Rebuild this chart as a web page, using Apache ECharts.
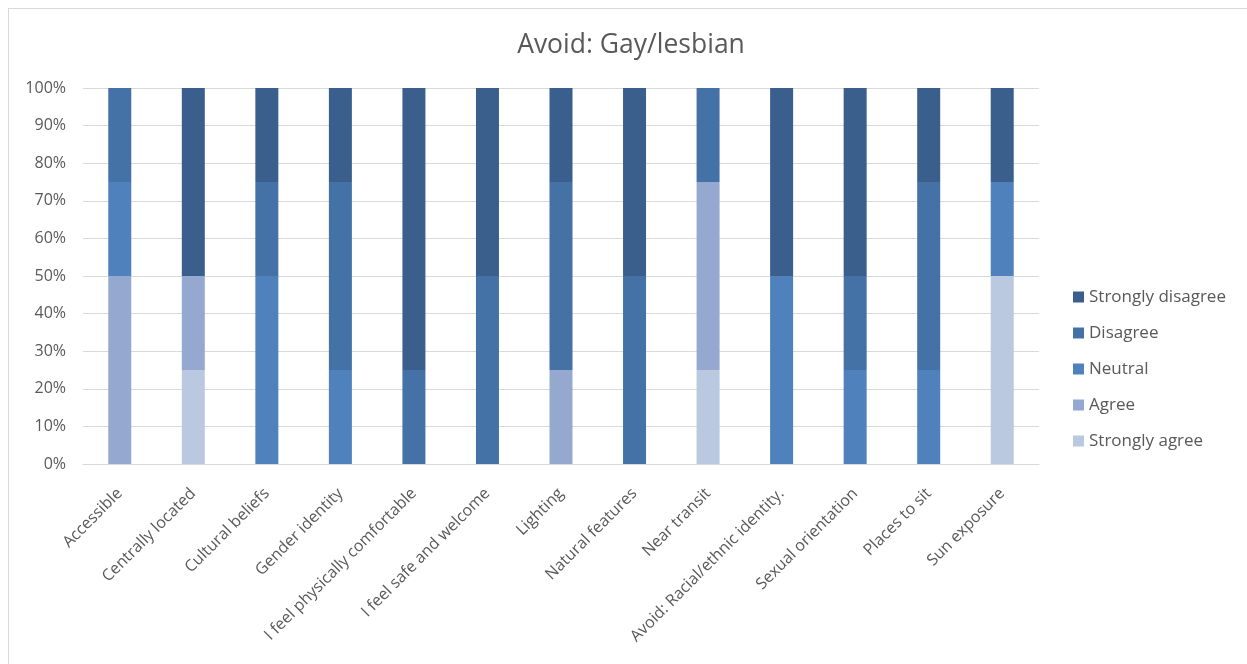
<!DOCTYPE html>
<html><head><meta charset="utf-8">
<script src="https://cdn.jsdelivr.net/npm/echarts@6/dist/echarts.min.js"></script>
<style>
html,body{margin:0;padding:0;background:#fff;overflow:hidden;}
#frame{position:absolute;left:8px;top:8px;width:1250px;height:670px;border:1px solid #d9d9d9;box-sizing:border-box;}
#chart{position:absolute;left:0;top:0;width:1247px;height:664px;}
</style></head>
<body>
<div id="frame"></div>
<div id="chart"></div>
<script>
const categories = ["Accessible","Centrally located","Cultural beliefs","Gender identity","I feel physically comfortable","I feel safe and welcome","Lighting","Natural features","Near transit","Avoid: Racial/ethnic identity.","Sexual orientation","Places to sit","Sun exposure"];
const stronglyAgree    = [0, 25, 0, 0, 0, 0, 0, 0, 25, 0, 0, 0, 50];
const agree            = [50, 25, 0, 0, 0, 0, 25, 0, 50, 0, 0, 0, 0];
const neutral          = [25, 0, 50, 25, 0, 0, 0, 0, 0, 50, 25, 25, 25];
const disagree         = [25, 0, 25, 50, 25, 50, 50, 50, 25, 0, 25, 50, 0];
const stronglyDisagree = [0, 50, 25, 25, 75, 50, 25, 50, 0, 50, 50, 25, 25];
const seriesNames = ["Strongly agree","Agree","Neutral","Disagree","Strongly disagree"];
const seriesData = [stronglyAgree, agree, neutral, disagree, stronglyDisagree];
const colors = ["#BAC8E0","#95A9D0","#4F81BD","#4472A6","#3A5F8C"];

const chart = echarts.init(document.getElementById('chart'));
chart.setOption({
  animation:false,
  title:{text:"Avoid: Gay/lesbian",left:626,top:27,textAlign:'center',
    textStyle:{fontFamily:'Open Sans',fontSize:26.5,fontWeight:'normal',color:'#595959'}},
  grid:{left:83,right:208,top:88,bottom:200},
  legend:{orient:'vertical',left:1068,top:281,itemGap:14,itemWidth:11,itemHeight:11,icon:'rect',
    data:seriesNames.slice().reverse(),
    textStyle:{fontFamily:'Open Sans',fontSize:17,color:'#595959',lineHeight:22}},
  xAxis:{type:'category',data:categories,
    axisLine:{lineStyle:{color:'#d9d9d9',width:1}},axisTick:{show:false},
    axisLabel:{rotate:45,interval:0,fontFamily:'Open Sans',fontSize:16,color:'#595959',margin:27}},
  yAxis:{type:'value',min:0,max:100,interval:10,
    axisLine:{show:false},axisTick:{show:false},
    splitLine:{lineStyle:{color:'#d9d9d9',width:1}},
    axisLabel:{formatter:'{value}%',fontFamily:'Open Sans',fontSize:16,color:'#595959',margin:17}},
  series:seriesNames.map((n,i)=>({name:n,type:'bar',stack:'total',data:seriesData[i],
    barWidth:23,itemStyle:{color:colors[i]}}))
});
</script>
</body></html>
